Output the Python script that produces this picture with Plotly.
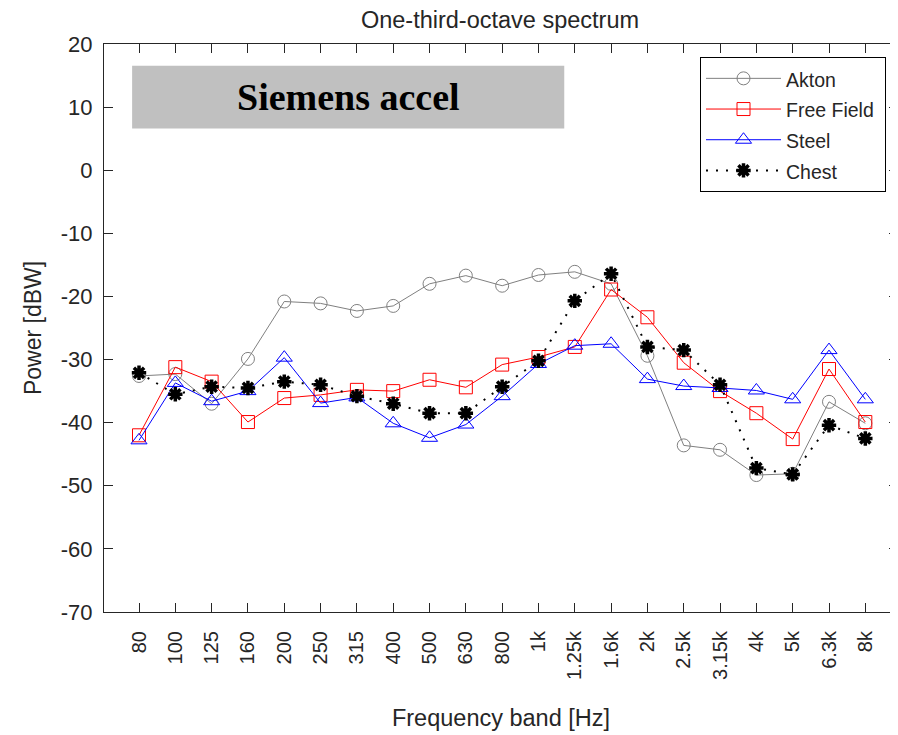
import plotly.graph_objects as go

bands = ["80", "100", "125", "160", "200", "250", "315", "400", "500", "630", "800",
         "1k", "1.25k", "1.6k", "2k", "2.5k", "3.15k", "4k", "5k", "6.3k", "8k"]

akton = [-32.6, -32.3, -37.0, -29.9, -20.8, -21.1, -22.3, -21.5, -18.0, -16.7, -18.3,
         -16.6, -16.1, -18.0, -29.4, -43.6, -44.3, -48.3, -48.1, -36.7, -40.1]
free_field = [-42.0, -31.2, -33.5, -39.9, -36.1, -35.6, -34.8, -35.0, -33.2, -34.4, -30.8,
              -29.6, -28.0, -18.9, -23.3, -30.5, -35.0, -38.5, -42.6, -31.5, -39.9]
steel = [-42.8, -33.7, -36.6, -35.0, -29.7, -36.9, -36.0, -40.1, -42.4, -40.3, -35.8,
         -30.7, -27.8, -27.5, -33.1, -34.2, -34.5, -34.9, -36.3, -28.5, -36.3]
chest = [-32.1, -35.5, -34.3, -34.5, -33.5, -34.0, -35.8, -37.0, -38.5, -38.5, -34.3,
         -30.2, -20.7, -16.4, -28.0, -28.5, -34.0, -47.2, -48.2, -40.4, -42.5]

y_ticks = [20, 10, 0, -10, -20, -30, -40, -50, -60, -70]

FONT = "Liberation Sans, Arial, sans-serif"
AX = "#262626"
TXT = "#262626"

# the page body adds an 8px offset, so the figure is 8px smaller than the window
FIG_W, FIG_H = 890, 727
M_L, M_T, M_B = 96, 36, 123
PLOT_W = FIG_W - M_L
PLOT_H = FIG_H - M_T - M_B


def leg(name):
    # legend row height follows legend.font.size; visible text size set here
    return '<span style="font-size:19.5px">' + name + '&nbsp;</span>'


fig = go.Figure()
fig.add_trace(go.Scatter(
    x=bands, y=akton, name=leg("Akton"), mode="lines+markers",
    line=dict(color="#808080", width=1),
    marker=dict(symbol="circle-open", size=13, color="#808080", line=dict(width=1))))
fig.add_trace(go.Scatter(
    x=bands, y=free_field, name=leg("Free Field"), mode="lines+markers",
    line=dict(color="#ff0000", width=1),
    marker=dict(symbol="square-open", size=13, color="#ff0000", line=dict(width=1))))
fig.add_trace(go.Scatter(
    x=bands, y=steel, name=leg("Steel"), mode="lines+markers",
    line=dict(color="#0000ff", width=1),
    marker=dict(symbol="triangle-up-open", size=14, color="#0000ff", line=dict(width=1))))
fig.add_trace(go.Scatter(
    x=bands, y=chest, name=leg("Chest"), mode="lines+markers",
    line=dict(color="#000000", width=2, dash="2px,8px"),
    marker=dict(symbol="asterisk-open", size=12, color="#000000",
                line=dict(width=3.5, color="#000000"))))

# Label box "Siemens accel"
fig.add_shape(type="rect", xref="x", yref="y", x0=-0.19, x1=11.71, y0=6.6, y1=16.55,
              fillcolor="#c0c0c0", line=dict(width=0), layer="below")
fig.add_annotation(xref="x", yref="y", x=5.76, y=11.55, text="<b>Siemens accel</b>",
                   showarrow=False, font=dict(family="Liberation Serif, Times New Roman, serif",
                                              size=38, color="#000000"))

fig.update_layout(
    width=FIG_W, height=FIG_H,
    margin=dict(l=M_L, r=0, t=M_T, b=M_B, autoexpand=False),
    paper_bgcolor="white", plot_bgcolor="white",
    font=dict(family=FONT, size=20, color=TXT),
    title=dict(text="One-third-octave spectrum", x=492 / FIG_W, xanchor="center",
               y=1 - 12 / FIG_H, yanchor="middle", font=dict(size=23.5, color=TXT)),
    showlegend=True,
    legend=dict(x=(700 - 104) / PLOT_W, y=1 - (57 - 44) / PLOT_H, xanchor="left", yanchor="top",
                bgcolor="white", bordercolor="#000000", borderwidth=1,
                font=dict(size=21.3, color=TXT), itemwidth=75,
                tracegroupgap=0),
)
fig.update_xaxes(
    type="category", range=[-0.964, 20.9], tickangle=-90, automargin=False,
    showgrid=False, zeroline=False, showline=True, linecolor=AX, linewidth=1,
    mirror="ticks", ticks="inside", ticklen=9, tickcolor=AX, ticklabelstandoff=10,
    tickfont=dict(size=20, color=TXT),
    title=dict(text="Frequency band [Hz]", font=dict(size=23.5), standoff=30),
)
fig.update_yaxes(
    range=[-70, 20], tickvals=y_ticks, ticktext=[str(v) for v in y_ticks], automargin=False,
    showgrid=False, zeroline=False, showline=True, linecolor=AX, linewidth=1,
    mirror="ticks", ticks="inside", ticklen=9, tickcolor=AX, ticklabelstandoff=6,
    tickfont=dict(size=22, color=TXT),
    title=dict(text="Power [dBW]", font=dict(size=23), standoff=12),
)

fig.write_html("out.html")
